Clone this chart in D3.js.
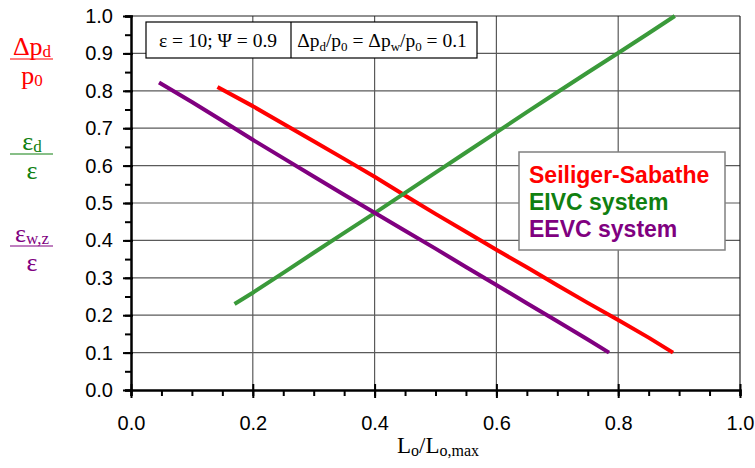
<!DOCTYPE html>
<html><head><meta charset="utf-8">
<script src="https://cdn.jsdelivr.net/npm/d3@7"></script>
<style>body{margin:0;background:#fff;} svg{display:block;}</style>
</head><body>
<svg id="c" width="755" height="468"></svg>
<script>
// ---- data ----
const seriesNames = ["Seiliger-Sabathe", "EIVC system", "EEVC system"];
const ssX = [0.142,0.2,0.25,0.3,0.35,0.4,0.45,0.5,0.55,0.6,0.65,0.7,0.75,0.8,0.85,0.89];
const ssY = [0.810,0.759,0.712,0.665,0.618,0.570,0.520,0.471,0.423,0.375,0.328,0.280,0.233,0.187,0.140,0.10];
const eivcX = [0.17,0.2,0.25,0.3,0.35,0.4,0.45,0.5,0.55,0.6,0.65,0.7,0.75,0.8,0.85,0.893];
const eivcY = [0.23,0.26,0.313,0.367,0.42,0.473,0.527,0.581,0.635,0.689,0.743,0.796,0.849,0.901,0.954,1.0];
const eevcX = [0.046,0.1,0.15,0.2,0.25,0.3,0.35,0.4,0.45,0.5,0.55,0.6,0.65,0.7,0.75,0.785];
const eevcY = [0.822,0.770,0.720,0.669,0.620,0.571,0.522,0.474,0.426,0.378,0.329,0.281,0.232,0.184,0.135,0.10];
const xTicks = [0, 0.2, 0.4, 0.6, 0.8, 1.0];
const yTicks = [0, 0.1, 0.2, 0.3, 0.4, 0.5, 0.6, 0.7, 0.8, 0.9, 1.0];

const lineColors = ["#ff0000", "#3a9a3a", "#800080"];
const textColors = ["#ff0000", "#108010", "#800080"];

const svg = d3.select("#c");
const x = d3.scaleLinear().domain([0, 1]).range([131, 740]);
const y = d3.scaleLinear().domain([0, 1]).range([390, 16]);
const SANS = "'Liberation Sans', Arial, sans-serif";
const SERIF = "'Liberation Serif', 'Times New Roman', serif";

// grid
const g = svg.append("g");
g.selectAll("line.h").data(yTicks.filter(v => v > 0 && v < 1)).join("line")
  .attr("x1", x(0)).attr("x2", x(1)).attr("y1", d => y(d)).attr("y2", d => y(d))
  .attr("stroke", "#5a5a5a").attr("stroke-width", 1.2);
g.selectAll("line.v").data(xTicks.filter(v => v > 0 && v < 1)).join("line")
  .attr("y1", y(0)).attr("y2", y(1)).attr("x1", d => x(d)).attr("x2", d => x(d))
  .attr("stroke", "#5a5a5a").attr("stroke-width", 1.2);
// frame top/right
svg.append("line").attr("x1", x(0)).attr("x2", x(1)).attr("y1", y(1)).attr("y2", y(1)).attr("stroke", "#222").attr("stroke-width", 1.2);
svg.append("line").attr("x1", x(1)).attr("x2", x(1)).attr("y1", y(0)).attr("y2", y(1)).attr("stroke", "#222").attr("stroke-width", 1.2);

// axes
const minorX = d3.range(0, 1.0001, 0.05);
const minorY = d3.range(0, 1.0001, 0.05);
const xAx = svg.append("g").attr("transform", `translate(0,${y(0)})`)
  .call(d3.axisBottom(x).tickValues(minorX).tickSize(6).tickFormat(""));
xAx.select(".domain").attr("stroke", "#000").attr("stroke-width", 2.5);
xAx.selectAll(".tick line").attr("stroke-width", 2);
const xAxMaj = svg.append("g").attr("transform", `translate(0,${y(0)})`)
  .call(d3.axisBottom(x).tickValues(xTicks).tickSize(8).tickPadding(18).tickFormat(d3.format(".1f")));
xAxMaj.select(".domain").remove();
xAxMaj.selectAll(".tick line").attr("y1", -6).attr("stroke-width", 2);
xAxMaj.selectAll(".tick text").attr("font-family", SANS).attr("font-size", 20).attr("fill", "#000");

const yAx = svg.append("g").attr("transform", `translate(${x(0)},0)`)
  .call(d3.axisLeft(y).tickValues(minorY).tickSize(6).tickFormat(""));
yAx.select(".domain").attr("stroke", "#000").attr("stroke-width", 2.5);
yAx.selectAll(".tick line").attr("stroke-width", 2);
const yAxMaj = svg.append("g").attr("transform", `translate(${x(0)},0)`)
  .call(d3.axisLeft(y).tickValues(yTicks).tickSize(8).tickPadding(10).tickFormat(d3.format(".1f")));
yAxMaj.select(".domain").remove();
yAxMaj.selectAll(".tick line").attr("x1", 2).attr("stroke-width", 2);
yAxMaj.selectAll(".tick text").attr("font-family", SANS).attr("font-size", 20).attr("fill", "#000");

// series lines
const series = [[ssX, ssY], [eivcX, eivcY], [eevcX, eevcY]];
const line = d3.line().x(d => x(d[0])).y(d => y(d[1]));
series.forEach((s, i) => {
  const pts = s[0].map((v, k) => [v, s[1][k]]);
  svg.append("path").datum(pts).attr("d", line).attr("fill", "none")
    .attr("stroke", lineColors[i]).attr("stroke-width", 4).attr("stroke-linejoin", "round");
});

// info box
const ib = svg.append("g");
ib.append("rect").attr("x", 146).attr("y", 22).attr("width", 331).attr("height", 36)
  .attr("fill", "#fff").attr("stroke", "#000").attr("stroke-width", 1.2);
ib.append("line").attr("x1", 291).attr("x2", 291).attr("y1", 22).attr("y2", 58).attr("stroke", "#000").attr("stroke-width", 1.2);
ib.append("text").attr("x", 218).attr("y", 47).attr("text-anchor", "middle")
  .attr("font-family", SERIF).attr("font-size", 19.5).text("ε = 10; Ψ = 0.9");
const t2 = ib.append("text").attr("x", 382).attr("y", 47).attr("text-anchor", "middle")
  .attr("font-family", SERIF).attr("font-size", 19.5);
t2.append("tspan").text("Δp");
t2.append("tspan").attr("font-size", 13).attr("dy", 4).text("d");
t2.append("tspan").attr("dy", -4).text("/p");
t2.append("tspan").attr("font-size", 13).attr("dy", 4).text("0");
t2.append("tspan").attr("dy", -4).text(" = Δp");
t2.append("tspan").attr("font-size", 13).attr("dy", 4).text("w");
t2.append("tspan").attr("dy", -4).text("/p");
t2.append("tspan").attr("font-size", 13).attr("dy", 4).text("0");
t2.append("tspan").attr("dy", -4).text(" = 0.1");

// legend
const lg = svg.append("g");
lg.append("rect").attr("x", 519).attr("y", 152).attr("width", 206).attr("height", 98)
  .attr("fill", "#fff").attr("stroke", "#808080").attr("stroke-width", 1.5);
seriesNames.forEach((n, i) => {
  lg.append("text").attr("x", 529).attr("y", 183 + i * 27).attr("font-family", SANS)
    .attr("font-weight", "bold").attr("font-size", 23).attr("fill", textColors[i]).text(n);
});

// left fraction labels
function frac(cx, yTop, color, main, sub, bottom, bsub) {
  const gg = svg.append("g").attr("fill", color).attr("font-family", SERIF);
  const t = gg.append("text").attr("x", cx).attr("y", yTop).attr("text-anchor", "middle").attr("font-size", 26);
  t.append("tspan").text(main);
  t.append("tspan").attr("font-size", 17).attr("dy", 2).text(sub);
  gg.append("line").attr("x1", 10).attr("x2", 53).attr("y1", yTop + 4).attr("y2", yTop + 4)
    .attr("stroke", color).attr("stroke-width", 1.2);
  const b = gg.append("text").attr("x", cx).attr("y", yTop + 29).attr("text-anchor", "middle").attr("font-size", 26);
  b.append("tspan").text(bottom);
  if (bsub) b.append("tspan").attr("font-size", 17).attr("dy", 2).text(bsub);
}
frac(32, 55, "#ff0000", "Δp", "d", "p", "0");
frac(32, 150, "#108010", "ε", "d", "ε", null);
frac(32, 242, "#800080", "ε", "w,z", "ε", null);

// x axis title
const xt = svg.append("text").attr("x", 438).attr("y", 453).attr("text-anchor", "middle")
  .attr("font-family", SERIF).attr("font-size", 23);
xt.append("tspan").text("L");
xt.append("tspan").attr("font-size", 16).attr("dy", 3).text("o");
xt.append("tspan").attr("dy", -3).text("/L");
xt.append("tspan").attr("font-size", 16).attr("dy", 3).text("o,max");
</script>
</body></html>
